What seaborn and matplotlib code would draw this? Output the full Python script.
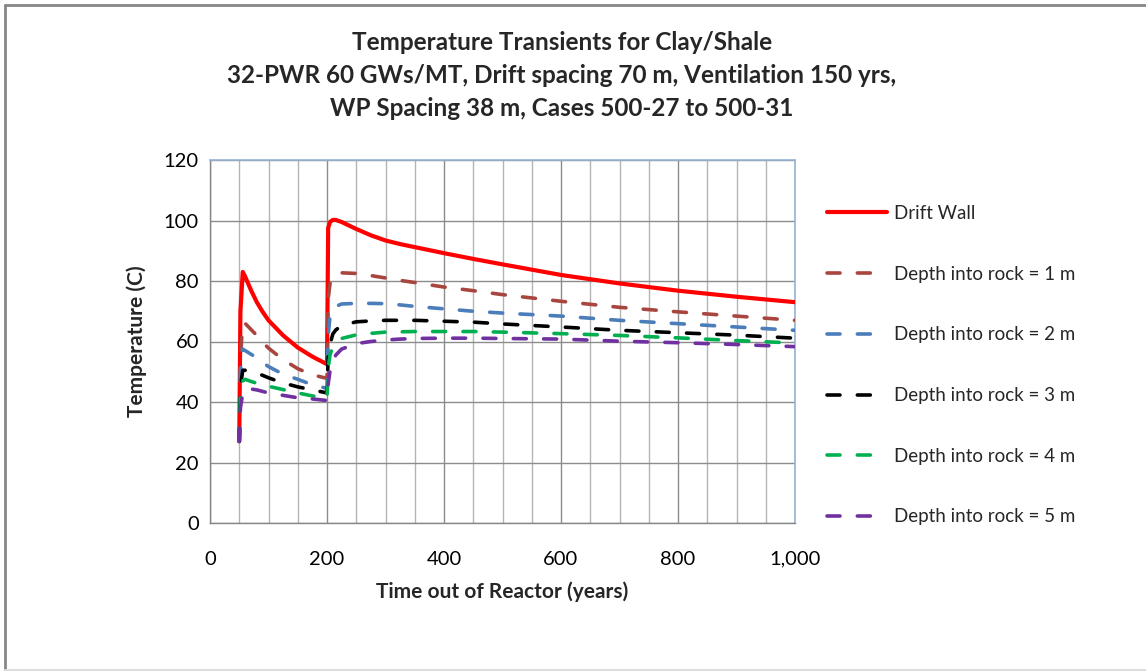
import matplotlib
matplotlib.use("Agg")
import matplotlib.pyplot as plt
import seaborn as sns
import pandas as pd
from matplotlib.ticker import FuncFormatter, MultipleLocator
from matplotlib.lines import Line2D

# Time out of reactor (years)
time_years = [50, 52, 56, 60, 70, 80, 90, 100, 125, 150, 175, 200, 202, 205, 210, 215, 225,
              250, 275, 300, 325, 350, 400, 450, 500, 600, 700, 800, 900, 1000]

# Temperatures (C)
drift_wall = [27, 70, 83, 81.5, 77, 73, 69.8, 67, 62, 58, 55, 52.5, 97.5, 99.5, 100.2, 100.2, 99.5,
              97.2, 95.1, 93.4, 92.2, 91.2, 89.2, 87.3, 85.5, 82, 79.2, 76.8, 74.8, 73]
depth_1m = [27, 55, 66, 66, 64, 62, 59.8, 57.8, 54, 51, 49, 47.8, 74, 79, 81.3, 82, 82.7,
            82.5, 81.8, 81, 80.2, 79.5, 78, 76.8, 75.5, 73.3, 71.3, 69.8, 68.4, 67]
depth_2m = [27, 50, 57.5, 57, 55.8, 54.6, 53.1, 51.7, 49.2, 47.5, 45.7, 44.5, 62, 68, 70.5, 71.6, 72.4,
            72.6, 72.6, 72.5, 72.1, 71.6, 70.8, 70, 69.4, 68.4, 67, 65.9, 64.8, 63.7]
depth_3m = [27, 45, 50.5, 50.5, 50, 49.6, 48.8, 48, 46.3, 45, 44, 43, 55, 59, 62.5, 63.8, 65.3,
            66.5, 66.8, 67, 67, 67, 66.7, 66.4, 65.8, 64.8, 63.7, 62.9, 62.1, 61.1]
depth_4m = [27, 42, 47, 47.5, 46.8, 46.2, 45.7, 45.2, 44.1, 43, 42, 41.3, 51, 55.5, 58.3, 59.5, 61,
            62.2, 62.7, 63.1, 63.2, 63.3, 63.3, 63.3, 63.1, 62.6, 62, 61.2, 60.3, 59.5]
depth_5m = [27, 38, 43, 44.3, 44.3, 44, 43.5, 43, 42.2, 41.4, 41, 40.5, 46, 50, 53.5, 55.5, 57.5,
            59.3, 60, 60.5, 60.8, 61, 61.1, 61.1, 61, 60.8, 60.1, 59.6, 59, 58.3]

series_names = ["Drift Wall", "Depth into rock = 1 m", "Depth into rock = 2 m",
                "Depth into rock = 3 m", "Depth into rock = 4 m", "Depth into rock = 5 m"]
series_values = [drift_wall, depth_1m, depth_2m, depth_3m, depth_4m, depth_5m]
series_colors = ["#FF0000", "#A9453F", "#4A7DBA", "#000000", "#00B050", "#7030A0"]

title_lines = ["Temperature Transients for Clay/Shale",
               "32-PWR 60 GWs/MT, Drift spacing 70 m, Ventilation 150 yrs,",
               "WP Spacing 38 m, Cases 500-27 to 500-31"]

df = pd.concat([pd.DataFrame({"Time": time_years, "Temp": vals, "Series": name})
                for name, vals in zip(series_names, series_values)], ignore_index=True)

sns.set_theme(style="white")
plt.rcParams["font.family"] = ["Lato", "DejaVu Sans"]

W, H = 1146, 671
fig = plt.figure(figsize=(W / 100, H / 100), dpi=100)
ax = fig.add_axes([210 / W, 1 - 523 / H, 585 / W, 363 / H])

DASH = [3.6, 4.8]
handles = []
for i, (name, color) in enumerate(zip(series_names, series_colors)):
    sub = df[df["Series"] == name]
    lw = 3.0 if i == 0 else 2.6
    sns.lineplot(data=sub, x="Time", y="Temp", color=color, linewidth=lw, ax=ax,
                 legend=False, zorder=3 + i)
    line = ax.lines[-1]
    line.set_solid_capstyle("round")
    line.set_solid_joinstyle("round")
    h = Line2D([], [], color=color, linewidth=lw, solid_capstyle="round")
    if i > 0:
        for obj in (line, h):
            obj.set_dashes(DASH)
            obj.set_dash_capstyle("round")
    handles.append(h)

ax.set_xlim(0, 1000)
ax.set_ylim(0, 120)
ax.xaxis.set_major_locator(MultipleLocator(200))
ax.xaxis.set_minor_locator(MultipleLocator(50))
ax.yaxis.set_major_locator(MultipleLocator(20))
ax.xaxis.set_major_formatter(FuncFormatter(lambda v, p: f"{int(v):,}"))

ax.grid(True, which="major", axis="both", color="#8C8C8C", linewidth=1.0, zorder=0)
ax.grid(True, which="minor", axis="x", color="#B4B4B4", linewidth=1.0, zorder=0)
ax.set_axisbelow(True)

for side in ["left", "bottom"]:
    ax.spines[side].set_color("#868686")
    ax.spines[side].set_linewidth(1.0)
for side in ["top", "right"]:
    ax.spines[side].set_color("#95B3D7")
    ax.spines[side].set_linewidth(1.2)

ax.tick_params(axis="both", which="both", length=0, labelsize=14.5, colors="#000000")
ax.tick_params(axis="y", pad=8)
ax.tick_params(axis="x", pad=20)

ax.set_xlabel("Time out of Reactor (years)", fontsize=15, fontweight="bold", labelpad=10)
ax.set_ylabel("Temperature (C)", fontsize=15, fontweight="bold", labelpad=12)

for k, line_text in enumerate(title_lines):
    fig.text(562 / W, 1 - (43 + 32.5 * k) / H, line_text, ha="center", va="center",
             fontsize=17.5, fontweight="bold")

ax.legend(handles, series_names, loc="upper left", bbox_to_anchor=(827 / W, 1 - 205 / H),
          bbox_transform=fig.transFigure, frameon=False, fontsize=13.5, handlelength=3.2,
          handletextpad=0.35, labelspacing=2.33, borderaxespad=0, borderpad=0)

# Chart frame: left and top edges dark, bottom edge light
fig.add_artist(Line2D([4.5 / W, 4.5 / W], [0, 1 - 4.5 / H], transform=fig.transFigure,
                      color="#868686", linewidth=2.0))
fig.add_artist(Line2D([4.5 / W, 1], [1 - 5 / H, 1 - 5 / H], transform=fig.transFigure,
                      color="#868686", linewidth=2.0))
fig.add_artist(Line2D([4.5 / W, 1], [1.5 / H, 1.5 / H], transform=fig.transFigure,
                      color="#DDDDDD", linewidth=1.5))

fig.savefig("out.png", dpi=100)
